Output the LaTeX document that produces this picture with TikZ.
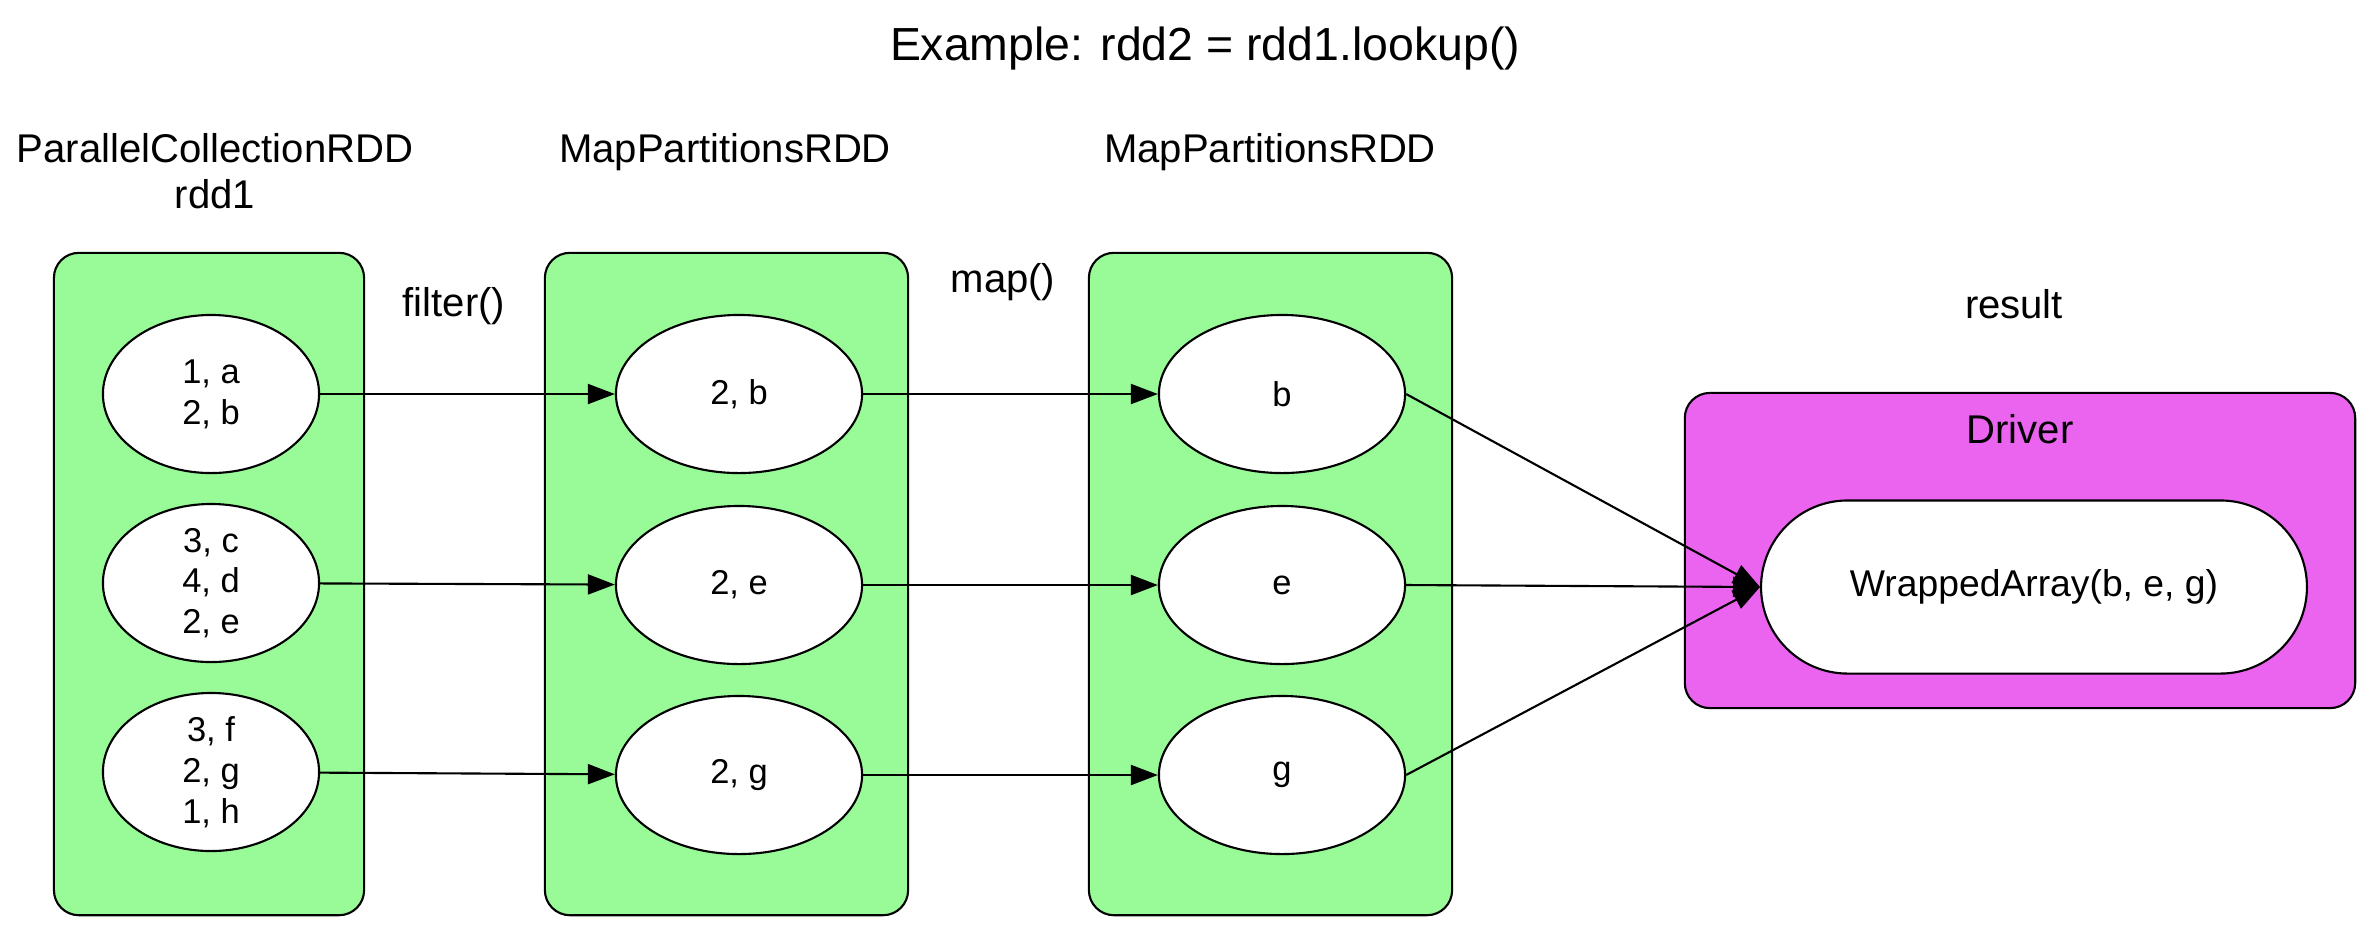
\documentclass[tikz,border=0pt]{standalone}
\usepackage{fontspec}
\setmainfont{Liberation Sans}
\usepackage{xcolor}
\usepackage{tikz}
\usetikzlibrary{positioning,arrows.meta,shapes.misc,shapes.geometric}
\definecolor{RddGreen}{HTML}{98FB98}
\definecolor{DriverPink}{HTML}{EB64F0}

\begin{document}
\begin{tikzpicture}[x=0.01cm, y=-0.01cm, line width=0.6pt,
                    lbl/.style={font=\fontsize{11.4}{13}\selectfont, anchor=base, inner sep=0pt},
                    rdd/.style={draw, fill=RddGreen, rounded corners=0.25cm, minimum height=6.62cm},
                    part/.style={draw, fill=white, ellipse, inner sep=0pt, minimum height=1.58cm,
                                 align=center, font=\fontsize{9.8}{11.6}\selectfont},
                    ar/.style={-{Triangle[length=0.27cm,width=0.2cm]}, line width=0.6pt}]
      \useasboundingbox (0,0) rectangle (2366,926);
      \node[anchor=base, inner sep=0pt, font=\fontsize{13.2}{15}\selectfont]
        (title) at (1205,60) {Example: rdd2 = rdd1.lookup()};
      \node[lbl, align=center] (l1) at (215,208) {ParallelCollectionRDD\\rdd1};
      \node[lbl] (l2) at (725,162) {MapPartitionsRDD};
      \node[lbl] (l3) at (1270,162) {MapPartitionsRDD};
      \node[lbl] (opf) at (454,316) {filter()};
      \node[lbl] (opm) at (1003,292) {map()};
      \node[lbl] (lres) at (2014,318) {result};
      % the three RDDs
      \node[rdd, minimum width=3.10cm] (bx1) at (209,584) {};
      \node[rdd, minimum width=3.63cm] (bx2) at (726.5,584) {};
      \node[rdd, minimum width=3.63cm] (bx3) at (1270.5,584) {};
      \node[draw, fill=DriverPink, rounded corners=0.25cm, minimum width=6.70cm,
            minimum height=3.15cm] (drv) at (2020,550.5) {};
      \node[lbl] (ldrv) at (2020,443) {Driver};
      % partitions
      \node[part, minimum width=2.16cm] (p1) at (211,394) {1, a\\2, b};
      \node[part, minimum width=2.16cm] (p2) at (211,583) {3, c\\4, d\\2, e};
      \node[part, minimum width=2.16cm] (p3) at (211,772) {3, f\\2, g\\1, h};
      \node[part, minimum width=2.46cm] (f1) at (739,394) {2, b};
      \node[part, minimum width=2.46cm] (f2) at (739,585) {2, e};
      \node[part, minimum width=2.46cm] (f3) at (739,775) {2, g};
      \node[part, minimum width=2.46cm] (m1) at (1282,394) {b};
      \node[part, minimum width=2.46cm] (m2) at (1282,585) {e};
      \node[part, minimum width=2.46cm] (m3) at (1282,775) {g};
      \node[draw, fill=white, rounded rectangle, minimum width=5.69cm, minimum height=1.73cm,
            font=\fontsize{10.6}{12}\selectfont]
        (res) at (2034,587) {WrappedArray(b, e, g)};
      \draw[ar](p1)--(f1); \draw[ar](p2)--(f2); \draw[ar](p3)--(f3);
      \draw[ar](f1)--(m1); \draw[ar](f2)--(m2); \draw[ar](f3)--(m3);
      \draw[ar](m1.east)--(res.west); \draw[ar](m2.east)--(res.west); \draw[ar](m3.east)--(res.west);
    \end{tikzpicture}
\end{document}
